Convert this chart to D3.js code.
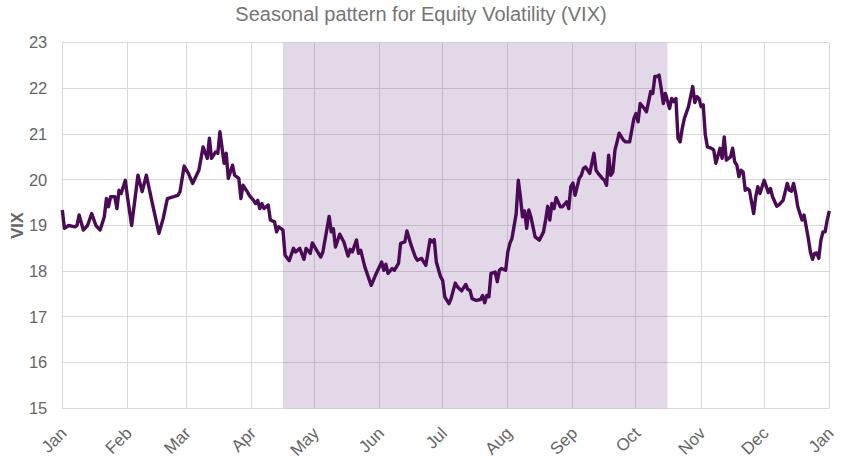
<!DOCTYPE html>
<html>
<head>
<meta charset="utf-8">
<script src="https://cdn.jsdelivr.net/npm/d3@7"></script>
<style>
  body { margin: 0; background: #fff; }
  text { font-family: "Liberation Sans", Arial, sans-serif; }
</style>
</head>
<body>
<script>

// day of year (0 = Jan 1) and average VIX level
var days = [0, 1, 3, 6, 7, 8, 10, 12, 14, 16, 18, 20, 21, 22, 23, 25, 26, 27, 28, 30,
    31, 33, 36, 38, 40, 43, 46, 48, 50, 53, 55, 56, 58, 60, 62, 65, 67, 69, 70, 71,
    73, 74, 75, 77, 78, 79, 81, 82, 84, 85, 86, 88, 89, 91, 92, 93, 94, 95, 96, 98,
    99, 101, 102, 103, 105, 106, 108, 110, 111, 113, 115, 116, 118, 119, 121, 123, 124, 127, 128, 129,
    130, 132, 134, 136, 137, 138, 140, 141, 142, 144, 147, 149, 152, 153, 154, 155, 157, 158, 160, 161,
    163, 164, 166, 168, 169, 171, 172, 173, 175, 176, 177, 178, 180, 181, 182, 184, 185, 187, 188, 190,
    192, 193, 194, 195, 197, 199, 200, 201, 202, 203, 204, 206, 207, 208, 209, 211, 212, 213, 214, 216,
    217, 218, 219, 220, 221, 222, 223, 225, 227, 229, 230, 231, 232, 233, 234, 235, 237, 238, 240, 241,
    242, 243, 244, 246, 247, 248, 249, 251, 252, 253, 254, 255, 257, 258, 259, 260, 261, 262, 263, 264,
    265, 267, 268, 270, 272, 273, 274, 275, 277, 278, 280, 281, 282, 283, 284, 285, 286, 287, 289, 290,
    291, 292, 293, 294, 295, 296, 298, 300, 301, 302, 303, 304, 305, 306, 307, 309, 310, 311, 313, 314,
    315, 316, 318, 319, 320, 321, 322, 323, 324, 325, 326, 327, 329, 330, 331, 332, 334, 336, 337, 338,
    340, 341, 343, 345, 346, 347, 348, 349, 350, 352, 353, 355, 356, 357, 358, 359, 360, 361, 362, 363,
    364, 365];

var vix = [19.34, 18.94, 19.0, 18.97, 19.0, 19.23, 18.9, 19.0, 19.26, 19.0, 18.9, 19.19, 19.59, 19.41, 19.63, 19.63, 19.37, 19.77, 19.70, 19.99,
    19.63, 19.0, 20.1, 19.74, 20.1, 19.45, 18.83, 19.15, 19.59, 19.63, 19.66, 19.74, 20.3, 20.14, 19.92, 20.21, 20.72, 20.47, 20.91, 20.47,
    20.61, 20.58, 21.05, 20.36, 20.58, 20.03, 20.32, 20.10, 20.03, 19.59, 19.88, 19.74, 19.66, 19.55, 19.48, 19.55, 19.37, 19.48, 19.37, 19.45,
    19.12, 19.08, 18.86, 18.97, 18.90, 18.35, 18.23, 18.50, 18.42, 18.50, 18.26, 18.50, 18.39, 18.62, 18.46, 18.31, 18.42, 19.20, 18.86, 18.93,
    18.53, 18.81, 18.64, 18.33, 18.48, 18.42, 18.68, 18.39, 18.46, 18.09, 17.69, 17.91, 18.20, 18.02, 18.15, 17.95, 18.06, 18.02, 18.17, 18.61,
    18.64, 18.88, 18.57, 18.31, 18.24, 18.28, 18.20, 18.13, 18.69, 18.64, 18.69, 18.20, 17.88, 17.80, 17.44, 17.29, 17.40, 17.74, 17.66, 17.57,
    17.71, 17.60, 17.58, 17.40, 17.36, 17.38, 17.47, 17.31, 17.47, 17.44, 17.95, 17.98, 17.77, 18.02, 18.06, 18.02, 18.42, 18.61, 18.72, 19.26,
    19.99, 19.63, 19.19, 19.32, 18.94, 19.34, 19.19, 18.75, 18.68, 18.86, 19.12, 19.42, 19.12, 19.48, 19.37, 19.61, 19.41, 19.41, 19.52, 19.37,
    19.85, 19.93, 19.66, 20.03, 20.10, 20.25, 20.28, 20.14, 20.36, 20.58, 20.21, 20.14, 20.03, 19.99, 19.88, 20.54, 20.10, 20.17, 20.65, 20.83,
    21.02, 20.87, 20.83, 20.83, 21.34, 21.45, 21.27, 21.67, 21.56, 21.49, 21.93, 21.89, 22.26, 22.26, 22.29, 22.00, 21.67, 21.89, 21.56, 21.78,
    21.71, 21.78, 20.91, 20.83, 21.12, 21.34, 21.60, 22.04, 21.69, 21.82, 21.78, 21.60, 21.64, 20.98, 20.72, 20.69, 20.65, 20.36, 20.69, 20.47,
    20.94, 20.43, 20.50, 20.69, 20.39, 20.32, 20.07, 20.21, 20.17, 19.77, 19.81, 19.77, 19.26, 19.63, 19.85, 19.70, 19.99, 19.72, 19.81, 19.63,
    19.42, 19.45, 19.55, 19.92, 19.77, 19.75, 19.92, 19.70, 19.41, 19.12, 19.23, 18.72, 18.42, 18.26, 18.39, 18.40, 18.28, 18.68, 18.86, 18.86,
    19.12, 19.32];

var monthLabels = ["Jan", "Feb", "Mar", "Apr", "May", "Jun", "Jul", "Aug", "Sep", "Oct", "Nov", "Dec", "Jan"];
var yTicks = [15, 16, 17, 18, 19, 20, 21, 22, 23];
var shadeFrom = 105, // Apr 16
    shadeTo = 288;   // Oct 16

var width = 859,
    height = 460,
    margin = {top: 42.7, right: 29.7, bottom: 51.7, left: 62.3};

var year = 2023;
function dayToDate(d) {
    return d3.timeDay.offset(new Date(year, 0, 1), d);
}

var x = d3.scaleTime()
    .domain([new Date(year, 0, 1), new Date(year + 1, 0, 1)])
    .range([margin.left, width - margin.right]);

var y = d3.scaleLinear()
    .domain([15, 23])
    .range([height - margin.bottom, margin.top]);

var monthTicks = d3.range(13).map(function(m) { return new Date(year, m, 1); });

var svg = d3.select("body")
    .append("svg")
    .attr("width", width)
    .attr("height", height);

// grid
var grid = svg.append("g").attr("class", "grid");

grid.selectAll("line.h")
    .data(yTicks)
    .enter().append("line")
    .attr("class", "h")
    .attr("x1", margin.left)
    .attr("x2", width - margin.right)
    .attr("y1", function(d) { return y(d); })
    .attr("y2", function(d) { return y(d); });

grid.selectAll("line.v")
    .data(monthTicks)
    .enter().append("line")
    .attr("class", "v")
    .attr("x1", function(d) { return x(d); })
    .attr("x2", function(d) { return x(d); })
    .attr("y1", margin.top)
    .attr("y2", height - margin.bottom);

grid.selectAll("line")
    .attr("stroke", "#d9d9d9")
    .attr("stroke-width", 1)
    .attr("shape-rendering", "crispEdges");

// shaded season, drawn over the grid so the lines show through darker
svg.append("rect")
    .attr("x", x(dayToDate(shadeFrom)))
    .attr("y", margin.top)
    .attr("width", x(dayToDate(shadeTo)) - x(dayToDate(shadeFrom)))
    .attr("height", height - margin.bottom - margin.top)
    .attr("fill", "rgb(115,60,140)")
    .attr("fill-opacity", 0.2);

// y axis labels
var yAxis = d3.axisLeft(y)
    .tickValues(yTicks)
    .tickSize(0)
    .tickPadding(15)
    .tickFormat(d3.format("d"));

svg.append("g")
    .attr("transform", "translate(" + margin.left + ",0)")
    .call(yAxis)
    .call(function(g) { g.select(".domain").remove(); })
    .selectAll("text")
    .attr("fill", "#666")
    .style("font-size", "16.5px");

// x axis labels
var xAxis = d3.axisBottom(x)
    .tickValues(monthTicks)
    .tickSize(0)
    .tickFormat(function(d, i) { return monthLabels[i]; });

svg.append("g")
    .attr("transform", "translate(0," + (height - margin.bottom) + ")")
    .call(xAxis)
    .call(function(g) { g.select(".domain").remove(); })
    .selectAll("text")
    .attr("fill", "#666")
    .style("font-size", "17px")
    .attr("text-anchor", "end")
    .attr("dy", null)
    .attr("y", 0)
    .attr("transform", "translate(5,26) rotate(-45)");

var line = d3.line()
    .x(function(d) { return x(dayToDate(d[0])); })
    .y(function(d) { return y(d[1]); });

svg.append("path")
    .datum(d3.zip(days, vix))
    .attr("fill", "none")
    .attr("stroke", "#4a0a56")
    .attr("stroke-width", 3.4)
    .attr("stroke-linejoin", "round")
    .attr("d", line);

// title
svg.append("text")
    .attr("x", 421)
    .attr("y", 21)
    .attr("text-anchor", "middle")
    .attr("fill", "#757575")
    .style("font-size", "20px")
    .text("Seasonal pattern for Equity Volatility (VIX)");

// y axis title
svg.append("text")
    .attr("transform", "translate(23," + y(19) + ") rotate(-90)")
    .attr("text-anchor", "middle")
    .attr("fill", "#666")
    .style("font-size", "16.5px")
    .style("font-weight", "bold")
    .text("VIX");

</script>
</body>
</html>
